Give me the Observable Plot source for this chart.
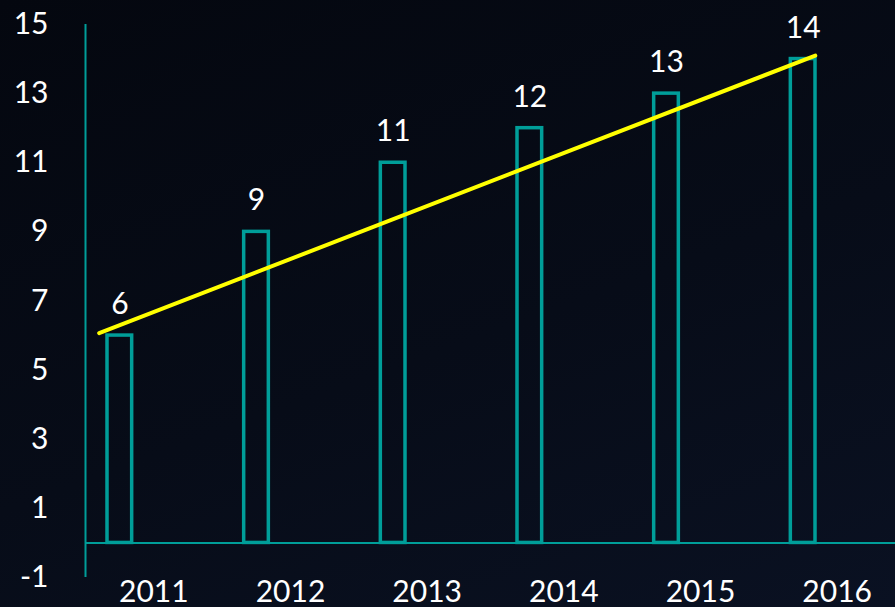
<!DOCTYPE html>
<html>
<head>
<meta charset="utf-8">
<script src="https://cdn.jsdelivr.net/npm/d3@7"></script>
<script src="https://cdn.jsdelivr.net/npm/@observablehq/plot@0.6"></script>
<style>
  html, body { margin: 0; padding: 0; }
  body {
    width: 895px; height: 607px; overflow: hidden;
    background: linear-gradient(160deg, #04070f 0%, #070c18 55%, #0a1122 100%);
  }
  svg { display: block; }
</style>
</head>
<body>
<div id="chart"></div>
<script>
const years = [2011, 2012, 2013, 2014, 2015, 2016];
const values = [6, 9, 11, 12, 13, 14];
const yTicks = [-1, 1, 3, 5, 7, 9, 11, 13, 15];
// hand-drawn trend line endpoints
const trendYears = [2010.6, 2015.84];
const trendValues = [6.07, 14.1];

const data = years.map((year, i) => ({year, value: values[i]}));
const trend = trendYears.map((year, i) => ({year, value: trendValues[i]}));

const teal = "#009e99";
const font = "Lato, 'Open Sans', sans-serif";

const chart = Plot.plot({
  width: 895,
  height: 607,
  marginLeft: 85,
  marginRight: 0,
  marginTop: 24,
  marginBottom: 30,
  style: {background: "transparent", color: "white", fontFamily: font, fontSize: "30px", overflow: "visible"},
  x: {type: "linear", domain: [2010.5, 2016.5], range: [85, 905], label: null},
  y: {domain: [-1, 15], label: null},
  marks: [
    Plot.ruleY([0], {stroke: teal, strokeWidth: 2}),
    Plot.ruleX([2010.5], {stroke: teal, strokeWidth: 2}),
    Plot.rectY(data, {
      x1: d => d.year - 0.5, x2: d => d.year + 0.5, y: "value",
      fill: "none", stroke: teal, strokeWidth: 3.5,
      insetLeft: 22, insetRight: 90
    }),
    Plot.line(trend, {x: "year", y: "value", stroke: "#ffff00", strokeWidth: 4}),
    Plot.text(data, {
      x: "year", y: "value", text: d => String(d.value),
      dx: -34, dy: -31, fill: "white", fontSize: 30, fontFamily: font
    }),
    Plot.axisX(years, {tickSize: 0, tickPadding: 3, tickFormat: d => String(d), label: null, fontSize: 30, fill: "white", fontFamily: font}),
    Plot.axisY(yTicks, {tickSize: 0, tickPadding: 37, tickFormat: d => String(d), label: null, fontSize: 30, fill: "white", fontFamily: font})
  ]
});
document.getElementById("chart").appendChild(chart);
</script>
</body>
</html>
